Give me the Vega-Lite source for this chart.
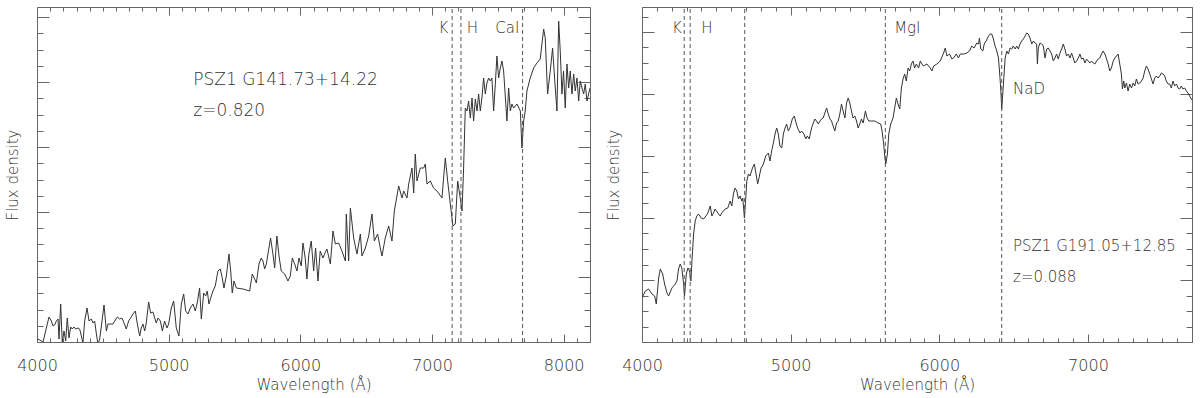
{
  "$schema": "https://vega.github.io/schema/vega-lite/v6.json",
  "padding": {"left": 5, "top": 6, "right": 0, "bottom": 0},
  "spacing": 52,
  "bounds": "flush",
  "config": {
    "view": {"stroke": "#666", "strokeWidth": 1},
    "axis": {"domain": false, "grid": false, "tickColor": "#666", "labelColor": "#333", "titleColor": "#333", "labelFont": "DejaVu Sans", "titleFont": "DejaVu Sans", "labelFontSize": 16, "titleFontSize": 15, "titleFontWeight": 200, "labelFontWeight": 200},
    "text": {"font": "DejaVu Sans", "color": "#333", "fontWeight": 200}
  },
  "datasets": {
    "left": [
      {"wl":4000,"flux":3},{"wl":4020,"flux":2},{"wl":4046,"flux":0},{"wl":4071,"flux":14},{"wl":4091,"flux":25},{"wl":4109,"flux":21},{"wl":4122,"flux":16},{"wl":4134,"flux":17},{"wl":4147,"flux":21},{"wl":4160,"flux":23},{"wl":4167,"flux":3},{"wl":4180,"flux":38},{"wl":4192,"flux":-1},{"wl":4205,"flux":11},{"wl":4218,"flux":1},{"wl":4230,"flux":24},{"wl":4243,"flux":4},{"wl":4256,"flux":15},{"wl":4268,"flux":13},{"wl":4281,"flux":15},{"wl":4294,"flux":13},{"wl":4311,"flux":14},{"wl":4324,"flux":13},{"wl":4337,"flux":6},{"wl":4349,"flux":-1},{"wl":4362,"flux":21},{"wl":4380,"flux":34},{"wl":4395,"flux":21},{"wl":4413,"flux":23},{"wl":4425,"flux":19},{"wl":4438,"flux":21},{"wl":4451,"flux":8},{"wl":4463,"flux":-2},{"wl":4476,"flux":3},{"wl":4494,"flux":21},{"wl":4509,"flux":37},{"wl":4527,"flux":11},{"wl":4539,"flux":18},{"wl":4557,"flux":18},{"wl":4577,"flux":18},{"wl":4595,"flux":22},{"wl":4610,"flux":25},{"wl":4628,"flux":23},{"wl":4645,"flux":24},{"wl":4661,"flux":19},{"wl":4678,"flux":13},{"wl":4696,"flux":21},{"wl":4711,"flux":24},{"wl":4729,"flux":28},{"wl":4747,"flux":31},{"wl":4762,"flux":18},{"wl":4780,"flux":6},{"wl":4792,"flux":14},{"wl":4805,"flux":18},{"wl":4818,"flux":11},{"wl":4830,"flux":19},{"wl":4848,"flux":40},{"wl":4863,"flux":29},{"wl":4881,"flux":30},{"wl":4894,"flux":24},{"wl":4906,"flux":19},{"wl":4919,"flux":24},{"wl":4937,"flux":21},{"wl":4952,"flux":11},{"wl":4969,"flux":21},{"wl":4987,"flux":14},{"wl":5000,"flux":18},{"wl":5020,"flux":34},{"wl":5038,"flux":41},{"wl":5058,"flux":14},{"wl":5078,"flux":6},{"wl":5096,"flux":38},{"wl":5114,"flux":48},{"wl":5129,"flux":31},{"wl":5147,"flux":28},{"wl":5164,"flux":34},{"wl":5185,"flux":38},{"wl":5202,"flux":31},{"wl":5217,"flux":39},{"wl":5235,"flux":54},{"wl":5248,"flux":23},{"wl":5266,"flux":49},{"wl":5281,"flux":46},{"wl":5293,"flux":51},{"wl":5306,"flux":38},{"wl":5324,"flux":46},{"wl":5336,"flux":51},{"wl":5354,"flux":56},{"wl":5374,"flux":71},{"wl":5392,"flux":73},{"wl":5407,"flux":64},{"wl":5420,"flux":54},{"wl":5438,"flux":66},{"wl":5458,"flux":88},{"wl":5471,"flux":71},{"wl":5483,"flux":49},{"wl":5496,"flux":61},{"wl":5514,"flux":54},{"wl":5564,"flux":53},{"wl":5615,"flux":51},{"wl":5635,"flux":68},{"wl":5653,"flux":63},{"wl":5666,"flux":59},{"wl":5686,"flux":78},{"wl":5703,"flux":84},{"wl":5716,"flux":81},{"wl":5729,"flux":73},{"wl":5742,"flux":78},{"wl":5754,"flux":88},{"wl":5774,"flux":104},{"wl":5792,"flux":88},{"wl":5805,"flux":74},{"wl":5822,"flux":106},{"wl":5838,"flux":86},{"wl":5855,"flux":71},{"wl":5881,"flux":68},{"wl":5906,"flux":61},{"wl":5924,"flux":66},{"wl":5939,"flux":84},{"wl":5957,"flux":78},{"wl":5974,"flux":71},{"wl":5990,"flux":84},{"wl":6007,"flux":76},{"wl":6020,"flux":99},{"wl":6037,"flux":84},{"wl":6050,"flux":63},{"wl":6065,"flux":88},{"wl":6083,"flux":101},{"wl":6101,"flux":71},{"wl":6116,"flux":94},{"wl":6134,"flux":61},{"wl":6151,"flux":91},{"wl":6172,"flux":84},{"wl":6187,"flux":89},{"wl":6202,"flux":93},{"wl":6228,"flux":78},{"wl":6248,"flux":111},{"wl":6266,"flux":98},{"wl":6291,"flux":99},{"wl":6316,"flux":91},{"wl":6342,"flux":81},{"wl":6349,"flux":128},{"wl":6367,"flux":81},{"wl":6380,"flux":134},{"wl":6405,"flux":104},{"wl":6430,"flux":88},{"wl":6456,"flux":108},{"wl":6468,"flux":86},{"wl":6494,"flux":94},{"wl":6519,"flux":106},{"wl":6544,"flux":128},{"wl":6562,"flux":101},{"wl":6587,"flux":108},{"wl":6607,"flux":94},{"wl":6620,"flux":86},{"wl":6645,"flux":104},{"wl":6671,"flux":116},{"wl":6696,"flux":101},{"wl":6714,"flux":131},{"wl":6747,"flux":156},{"wl":6772,"flux":144},{"wl":6785,"flux":151},{"wl":6810,"flux":144},{"wl":6823,"flux":158},{"wl":6848,"flux":174},{"wl":6861,"flux":149},{"wl":6873,"flux":188},{"wl":6886,"flux":161},{"wl":6911,"flux":174},{"wl":6937,"flux":174},{"wl":6949,"flux":178},{"wl":6962,"flux":158},{"wl":6987,"flux":161},{"wl":7012,"flux":154},{"wl":7038,"flux":151},{"wl":7076,"flux":144},{"wl":7088,"flux":164},{"wl":7101,"flux":184},{"wl":7119,"flux":161},{"wl":7139,"flux":138},{"wl":7159,"flux":116},{"wl":7177,"flux":118},{"wl":7195,"flux":161},{"wl":7210,"flux":148},{"wl":7228,"flux":131},{"wl":7240,"flux":174},{"wl":7253,"flux":234},{"wl":7266,"flux":231},{"wl":7278,"flux":241},{"wl":7291,"flux":224},{"wl":7304,"flux":244},{"wl":7316,"flux":221},{"wl":7329,"flux":243},{"wl":7342,"flux":231},{"wl":7354,"flux":248},{"wl":7367,"flux":231},{"wl":7379,"flux":244},{"wl":7392,"flux":264},{"wl":7405,"flux":248},{"wl":7417,"flux":259},{"wl":7430,"flux":264},{"wl":7443,"flux":261},{"wl":7455,"flux":264},{"wl":7468,"flux":231},{"wl":7481,"flux":258},{"wl":7493,"flux":286},{"wl":7506,"flux":264},{"wl":7519,"flux":274},{"wl":7531,"flux":281},{"wl":7544,"flux":271},{"wl":7569,"flux":221},{"wl":7582,"flux":254},{"wl":7595,"flux":231},{"wl":7607,"flux":238},{"wl":7620,"flux":234},{"wl":7645,"flux":238},{"wl":7671,"flux":231},{"wl":7683,"flux":194},{"wl":7696,"flux":221},{"wl":7708,"flux":231},{"wl":7721,"flux":251},{"wl":7746,"flux":264},{"wl":7772,"flux":274},{"wl":7797,"flux":279},{"wl":7822,"flux":283},{"wl":7848,"flux":313},{"wl":7860,"flux":304},{"wl":7878,"flux":248},{"wl":7898,"flux":271},{"wl":7916,"flux":294},{"wl":7931,"flux":264},{"wl":7949,"flux":231},{"wl":7962,"flux":321},{"wl":7974,"flux":291},{"wl":7987,"flux":248},{"wl":7999,"flux":271},{"wl":8012,"flux":234},{"wl":8025,"flux":278},{"wl":8038,"flux":254},{"wl":8050,"flux":271},{"wl":8063,"flux":248},{"wl":8076,"flux":268},{"wl":8088,"flux":251},{"wl":8101,"flux":264},{"wl":8114,"flux":241},{"wl":8126,"flux":261},{"wl":8139,"flux":254},{"wl":8152,"flux":248},{"wl":8164,"flux":258},{"wl":8177,"flux":241},{"wl":8200,"flux":254}
    ],
    "right": [
      {"wl":4000,"flux":44},{"wl":4022,"flux":51},{"wl":4045,"flux":53},{"wl":4067,"flux":48},{"wl":4085,"flux":46},{"wl":4096,"flux":38},{"wl":4112,"flux":64},{"wl":4123,"flux":73},{"wl":4139,"flux":68},{"wl":4152,"flux":58},{"wl":4168,"flux":49},{"wl":4179,"flux":46},{"wl":4201,"flux":54},{"wl":4224,"flux":58},{"wl":4235,"flux":61},{"wl":4246,"flux":73},{"wl":4257,"flux":78},{"wl":4268,"flux":74},{"wl":4280,"flux":58},{"wl":4286,"flux":46},{"wl":4298,"flux":68},{"wl":4309,"flux":74},{"wl":4320,"flux":71},{"wl":4329,"flux":61},{"wl":4336,"flux":81},{"wl":4347,"flux":108},{"wl":4358,"flux":121},{"wl":4369,"flux":126},{"wl":4380,"flux":128},{"wl":4398,"flux":124},{"wl":4414,"flux":123},{"wl":4430,"flux":126},{"wl":4443,"flux":129},{"wl":4459,"flux":136},{"wl":4470,"flux":126},{"wl":4481,"flux":129},{"wl":4492,"flux":133},{"wl":4510,"flux":129},{"wl":4526,"flux":126},{"wl":4537,"flux":129},{"wl":4559,"flux":133},{"wl":4577,"flux":134},{"wl":4593,"flux":141},{"wl":4604,"flux":136},{"wl":4615,"flux":148},{"wl":4626,"flux":154},{"wl":4638,"flux":151},{"wl":4649,"flux":143},{"wl":4660,"flux":146},{"wl":4671,"flux":141},{"wl":4678,"flux":144},{"wl":4689,"flux":124},{"wl":4698,"flux":144},{"wl":4705,"flux":161},{"wl":4716,"flux":168},{"wl":4727,"flux":166},{"wl":4743,"flux":174},{"wl":4756,"flux":178},{"wl":4767,"flux":168},{"wl":4778,"flux":158},{"wl":4787,"flux":164},{"wl":4801,"flux":174},{"wl":4817,"flux":178},{"wl":4832,"flux":186},{"wl":4850,"flux":189},{"wl":4861,"flux":181},{"wl":4872,"flux":191},{"wl":4884,"flux":199},{"wl":4895,"flux":208},{"wl":4906,"flux":214},{"wl":4917,"flux":208},{"wl":4928,"flux":196},{"wl":4940,"flux":194},{"wl":4951,"flux":208},{"wl":4962,"flux":214},{"wl":4973,"flux":218},{"wl":4984,"flux":211},{"wl":4995,"flux":214},{"wl":5011,"flux":223},{"wl":5025,"flux":226},{"wl":5033,"flux":221},{"wl":5047,"flux":214},{"wl":5063,"flux":209},{"wl":5074,"flux":211},{"wl":5089,"flux":208},{"wl":5101,"flux":203},{"wl":5112,"flux":206},{"wl":5125,"flux":203},{"wl":5136,"flux":211},{"wl":5145,"flux":216},{"wl":5163,"flux":223},{"wl":5174,"flux":221},{"wl":5186,"flux":218},{"wl":5197,"flux":221},{"wl":5208,"flux":223},{"wl":5219,"flux":224},{"wl":5230,"flux":229},{"wl":5242,"flux":234},{"wl":5253,"flux":228},{"wl":5264,"flux":223},{"wl":5275,"flux":221},{"wl":5286,"flux":216},{"wl":5297,"flux":211},{"wl":5309,"flux":219},{"wl":5320,"flux":221},{"wl":5331,"flux":228},{"wl":5342,"flux":238},{"wl":5353,"flux":231},{"wl":5365,"flux":224},{"wl":5376,"flux":239},{"wl":5387,"flux":244},{"wl":5398,"flux":239},{"wl":5409,"flux":231},{"wl":5420,"flux":224},{"wl":5432,"flux":226},{"wl":5443,"flux":221},{"wl":5454,"flux":214},{"wl":5465,"flux":218},{"wl":5476,"flux":223},{"wl":5488,"flux":219},{"wl":5503,"flux":231},{"wl":5514,"flux":224},{"wl":5526,"flux":221},{"wl":5544,"flux":221},{"wl":5566,"flux":221},{"wl":5588,"flux":219},{"wl":5606,"flux":218},{"wl":5615,"flux":211},{"wl":5626,"flux":198},{"wl":5633,"flux":186},{"wl":5640,"flux":178},{"wl":5651,"flux":188},{"wl":5660,"flux":208},{"wl":5673,"flux":218},{"wl":5689,"flux":224},{"wl":5700,"flux":234},{"wl":5711,"flux":244},{"wl":5722,"flux":238},{"wl":5734,"flux":233},{"wl":5745,"flux":254},{"wl":5756,"flux":263},{"wl":5767,"flux":268},{"wl":5778,"flux":261},{"wl":5790,"flux":274},{"wl":5801,"flux":271},{"wl":5812,"flux":278},{"wl":5823,"flux":281},{"wl":5834,"flux":274},{"wl":5846,"flux":278},{"wl":5861,"flux":274},{"wl":5872,"flux":281},{"wl":5883,"flux":278},{"wl":5894,"flux":276},{"wl":5917,"flux":278},{"wl":5939,"flux":274},{"wl":5950,"flux":271},{"wl":5962,"flux":276},{"wl":5984,"flux":278},{"wl":6006,"flux":281},{"wl":6029,"flux":289},{"wl":6040,"flux":294},{"wl":6051,"flux":286},{"wl":6069,"flux":288},{"wl":6085,"flux":283},{"wl":6096,"flux":284},{"wl":6114,"flux":288},{"wl":6129,"flux":284},{"wl":6141,"flux":288},{"wl":6163,"flux":288},{"wl":6185,"flux":289},{"wl":6203,"flux":291},{"wl":6219,"flux":296},{"wl":6234,"flux":294},{"wl":6252,"flux":299},{"wl":6264,"flux":298},{"wl":6270,"flux":304},{"wl":6279,"flux":293},{"wl":6293,"flux":291},{"wl":6302,"flux":298},{"wl":6315,"flux":301},{"wl":6331,"flux":306},{"wl":6342,"flux":308},{"wl":6353,"flux":308},{"wl":6364,"flux":303},{"wl":6375,"flux":296},{"wl":6387,"flux":291},{"wl":6398,"flux":284},{"wl":6405,"flux":271},{"wl":6413,"flux":254},{"wl":6420,"flux":233},{"wl":6427,"flux":248},{"wl":6436,"flux":268},{"wl":6443,"flux":284},{"wl":6454,"flux":291},{"wl":6465,"flux":288},{"wl":6476,"flux":294},{"wl":6487,"flux":293},{"wl":6498,"flux":296},{"wl":6510,"flux":293},{"wl":6521,"flux":296},{"wl":6532,"flux":293},{"wl":6543,"flux":298},{"wl":6554,"flux":301},{"wl":6566,"flux":303},{"wl":6577,"flux":306},{"wl":6588,"flux":309},{"wl":6599,"flux":308},{"wl":6610,"flux":304},{"wl":6622,"flux":298},{"wl":6633,"flux":301},{"wl":6644,"flux":299},{"wl":6655,"flux":298},{"wl":6660,"flux":278},{"wl":6666,"flux":294},{"wl":6677,"flux":299},{"wl":6689,"flux":298},{"wl":6700,"flux":296},{"wl":6711,"flux":284},{"wl":6722,"flux":293},{"wl":6733,"flux":294},{"wl":6745,"flux":291},{"wl":6756,"flux":288},{"wl":6767,"flux":281},{"wl":6778,"flux":284},{"wl":6789,"flux":288},{"wl":6800,"flux":283},{"wl":6812,"flux":289},{"wl":6823,"flux":293},{"wl":6834,"flux":298},{"wl":6845,"flux":293},{"wl":6856,"flux":286},{"wl":6868,"flux":288},{"wl":6879,"flux":284},{"wl":6890,"flux":289},{"wl":6901,"flux":284},{"wl":6912,"flux":279},{"wl":6924,"flux":281},{"wl":6935,"flux":284},{"wl":6946,"flux":288},{"wl":6957,"flux":283},{"wl":6968,"flux":284},{"wl":6979,"flux":279},{"wl":6991,"flux":283},{"wl":7002,"flux":281},{"wl":7013,"flux":279},{"wl":7024,"flux":281},{"wl":7035,"flux":279},{"wl":7047,"flux":278},{"wl":7058,"flux":281},{"wl":7069,"flux":283},{"wl":7080,"flux":284},{"wl":7091,"flux":288},{"wl":7102,"flux":291},{"wl":7114,"flux":288},{"wl":7125,"flux":283},{"wl":7136,"flux":278},{"wl":7147,"flux":271},{"wl":7158,"flux":274},{"wl":7170,"flux":281},{"wl":7181,"flux":284},{"wl":7192,"flux":286},{"wl":7203,"flux":288},{"wl":7214,"flux":278},{"wl":7225,"flux":268},{"wl":7232,"flux":253},{"wl":7241,"flux":261},{"wl":7248,"flux":254},{"wl":7259,"flux":259},{"wl":7270,"flux":251},{"wl":7281,"flux":258},{"wl":7293,"flux":254},{"wl":7304,"flux":259},{"wl":7315,"flux":256},{"wl":7326,"flux":263},{"wl":7337,"flux":258},{"wl":7349,"flux":259},{"wl":7360,"flux":261},{"wl":7371,"flux":264},{"wl":7382,"flux":271},{"wl":7393,"flux":276},{"wl":7404,"flux":273},{"wl":7416,"flux":268},{"wl":7427,"flux":263},{"wl":7438,"flux":258},{"wl":7449,"flux":264},{"wl":7460,"flux":266},{"wl":7472,"flux":264},{"wl":7483,"flux":266},{"wl":7494,"flux":269},{"wl":7505,"flux":268},{"wl":7516,"flux":266},{"wl":7527,"flux":261},{"wl":7539,"flux":258},{"wl":7550,"flux":258},{"wl":7561,"flux":254},{"wl":7572,"flux":261},{"wl":7583,"flux":256},{"wl":7595,"flux":258},{"wl":7606,"flux":254},{"wl":7617,"flux":253},{"wl":7628,"flux":256},{"wl":7639,"flux":253},{"wl":7651,"flux":254},{"wl":7662,"flux":251},{"wl":7673,"flux":249},{"wl":7684,"flux":246},{"wl":7700,"flux":242}
    ],
    "leftLines": [{"line":"K","wl":7153,"lx":7086,"ly":314},{"line":"H","wl":7220,"lx":7306,"ly":314},{"line":"CaI","wl":7688,"lx":7572,"ly":314}],
    "leftInfo": [{"text":"PSZ1 G141.73+14.22","wl":5187,"flux":262},{"text":"z=0.820","wl":5187,"flux":231}],
    "rightLines": [{"line":"K","wl":4284,"lx":4235,"ly":314},{"line":"H","wl":4324,"lx":4436,"ly":314},{"line":"","wl":4691,"lx":4691,"ly":314},{"line":"MgI","wl":5637,"lx":5785,"ly":314},{"line":"NaD","wl":6420,"lx":6604,"ly":253}],
    "rightInfo": [{"text":"PSZ1 G191.05+12.85","wl":6496,"flux":96},{"text":"z=0.088","wl":6496,"flux":65}]
  },
  "hconcat": [
    {
      "width": 553,
      "height": 335,
      "layer": [
        {
          "data": {"name": "left"},
          "mark": {"type": "line", "color": "#333", "strokeWidth": 1, "clip": true},
          "encoding": {
            "x": {"field": "wl", "type": "quantitative", "scale": {"domain": [4000, 8200], "nice": false, "zero": false},
              "axis": {"orient": "bottom", "title": "Wavelength (Å)", "titlePadding": 0, "values": [4000,4100,4200,4300,4400,4500,4600,4700,4800,4900,5000,5100,5200,5300,5400,5500,5600,5700,5800,5900,6000,6100,6200,6300,6400,6500,6600,6700,6800,6900,7000,7100,7200,7300,7400,7500,7600,7700,7800,7900,8000,8100,8200],
                "labelExpr": "datum.value % 1000 === 0 ? format(datum.value, 'd') : ''", "labelOverlap": false, "labelFlush": false, "labelPadding": 23,
                "tickSize": {"condition": {"test": "datum.value % 1000 === 0", "value": -8}, "value": -4}}},
            "y": {"field": "flux", "type": "quantitative", "scale": {"domain": [0, 335], "nice": false, "zero": false},
              "axis": {"orient": "left", "title": "Flux density", "titlePadding": 16, "labels": false,
                "values": [0,16.25,32.5,48.75,65,81.25,97.5,113.75,130,146.25,162.5,178.75,195,211.25,227.5,243.75,260,276.25,292.5,308.75,325],
                "tickSize": {"condition": {"test": "datum.value % 65 === 0", "value": -12}, "value": -6}}}
          }
        },
        {
          "data": {"name": "leftLines"},
          "mark": {"type": "rule", "color": "#555", "strokeWidth": 1, "strokeDash": [4, 3]},
          "encoding": {
            "x": {"field": "wl", "type": "quantitative",
              "axis": {"orient": "top", "title": null, "labels": false, "values": [4000,4100,4200,4300,4400,4500,4600,4700,4800,4900,5000,5100,5200,5300,5400,5500,5600,5700,5800,5900,6000,6100,6200,6300,6400,6500,6600,6700,6800,6900,7000,7100,7200,7300,7400,7500,7600,7700,7800,7900,8000,8100,8200],
                "tickSize": {"condition": {"test": "datum.value % 1000 === 0", "value": -8}, "value": -4}}},
            "y": {"datum": 0, "type": "quantitative",
              "axis": {"orient": "right", "title": null, "labels": false,
                "values": [0,16.25,32.5,48.75,65,81.25,97.5,113.75,130,146.25,162.5,178.75,195,211.25,227.5,243.75,260,276.25,292.5,308.75,325],
                "tickSize": {"condition": {"test": "datum.value % 65 === 0", "value": -12}, "value": -6}}},
            "y2": {"datum": 335}
          }
        },
        {
          "data": {"name": "leftLines"},
          "mark": {"type": "text", "fontSize": 15, "align": "center", "baseline": "middle"},
          "encoding": {
            "x": {"field": "lx", "type": "quantitative", "axis": null},
            "y": {"field": "ly", "type": "quantitative", "axis": null},
            "text": {"field": "line"}
          }
        },
        {
          "data": {"name": "leftInfo"},
          "mark": {"type": "text", "fontSize": 17, "align": "left", "baseline": "middle"},
          "encoding": {
            "x": {"field": "wl", "type": "quantitative", "axis": null},
            "y": {"field": "flux", "type": "quantitative", "axis": null},
            "text": {"field": "text"}
          }
        }
      ],
      "resolve": {"axis": {"x": "independent", "y": "independent"}}
    },
    {
      "width": 550,
      "height": 335,
      "layer": [
        {
          "data": {"name": "right"},
          "mark": {"type": "line", "color": "#333", "strokeWidth": 1, "clip": true},
          "encoding": {
            "x": {"field": "wl", "type": "quantitative", "scale": {"domain": [4000, 7700], "nice": false, "zero": false},
              "axis": {"orient": "bottom", "title": "Wavelength (Å)", "titlePadding": 0, "values": [4000,4100,4200,4300,4400,4500,4600,4700,4800,4900,5000,5100,5200,5300,5400,5500,5600,5700,5800,5900,6000,6100,6200,6300,6400,6500,6600,6700,6800,6900,7000,7100,7200,7300,7400,7500,7600,7700],
                "labelExpr": "datum.value % 1000 === 0 ? format(datum.value, 'd') : ''", "labelOverlap": false, "labelFlush": false, "labelPadding": 23,
                "tickSize": {"condition": {"test": "datum.value % 1000 === 0", "value": -8}, "value": -4}}},
            "y": {"field": "flux", "type": "quantitative", "scale": {"domain": [0, 335], "nice": false, "zero": false},
              "axis": {"orient": "left", "title": "Flux density", "titlePadding": 20, "labels": false,
                "values": [0,15.5,31,46.5,62,77.5,93,108.5,124,139.5,155,170.5,186,201.5,217,232.5,248,263.5,279,294.5,310,325.5],
                "tickSize": {"condition": {"test": "datum.value % 62 === 0", "value": -12}, "value": -6}}}
          }
        },
        {
          "data": {"name": "rightLines"},
          "mark": {"type": "rule", "color": "#555", "strokeWidth": 1, "strokeDash": [4, 3]},
          "encoding": {
            "x": {"field": "wl", "type": "quantitative",
              "axis": {"orient": "top", "title": null, "labels": false, "values": [4000,4100,4200,4300,4400,4500,4600,4700,4800,4900,5000,5100,5200,5300,5400,5500,5600,5700,5800,5900,6000,6100,6200,6300,6400,6500,6600,6700,6800,6900,7000,7100,7200,7300,7400,7500,7600,7700],
                "tickSize": {"condition": {"test": "datum.value % 1000 === 0", "value": -8}, "value": -4}}},
            "y": {"datum": 0, "type": "quantitative",
              "axis": {"orient": "right", "title": null, "labels": false,
                "values": [0,15.5,31,46.5,62,77.5,93,108.5,124,139.5,155,170.5,186,201.5,217,232.5,248,263.5,279,294.5,310,325.5],
                "tickSize": {"condition": {"test": "datum.value % 62 === 0", "value": -12}, "value": -6}}},
            "y2": {"datum": 335}
          }
        },
        {
          "data": {"name": "rightLines"},
          "mark": {"type": "text", "fontSize": 15, "align": "center", "baseline": "middle"},
          "encoding": {
            "x": {"field": "lx", "type": "quantitative", "axis": null},
            "y": {"field": "ly", "type": "quantitative", "axis": null},
            "text": {"field": "line"}
          }
        },
        {
          "data": {"name": "rightInfo"},
          "mark": {"type": "text", "fontSize": 15, "align": "left", "baseline": "middle"},
          "encoding": {
            "x": {"field": "wl", "type": "quantitative", "axis": null},
            "y": {"field": "flux", "type": "quantitative", "axis": null},
            "text": {"field": "text"}
          }
        }
      ],
      "resolve": {"axis": {"x": "independent", "y": "independent"}}
    }
  ]
}
